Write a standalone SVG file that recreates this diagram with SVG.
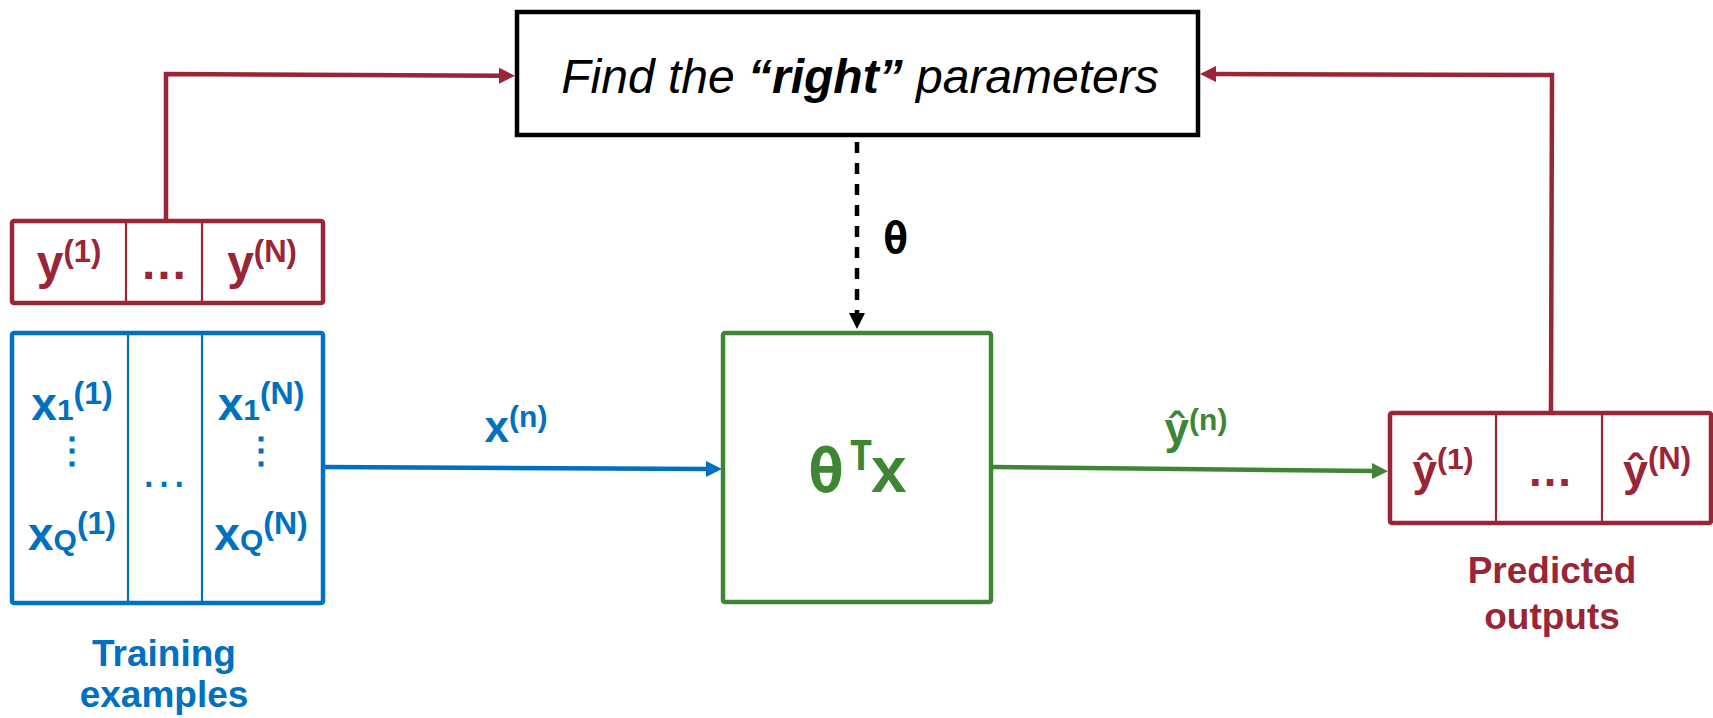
<svg xmlns="http://www.w3.org/2000/svg" width="1713" height="718" viewBox="0 0 1713 718">
  <defs>
    <style>
      text { font-family: "Liberation Sans", Arial, sans-serif; }
      .b { font-weight: bold; }
      .blue { fill: #0070C0; }
      .red { fill: #9A2537; }
      .green { fill: #3E8634; }
      .mono { font-family: "DejaVu Sans Mono", monospace; font-weight: bold; }
      .frame { fill: #ffffff; stroke-width: 4.5; }
      .div { fill: none; stroke-width: 2.2; }
      .conn { fill: none; stroke-width: 4.5; }
    </style>
    <marker id="ahRed" markerUnits="userSpaceOnUse" markerWidth="16" markerHeight="16" refX="4" refY="8" orient="auto">
      <path d="M0,0 L16,8 L0,16 z" fill="#9A2537"/>
    </marker>
    <marker id="ahBlue" markerUnits="userSpaceOnUse" markerWidth="16" markerHeight="16" refX="4" refY="8" orient="auto">
      <path d="M0,0 L16,8 L0,16 z" fill="#0070C0"/>
    </marker>
    <marker id="ahGreen" markerUnits="userSpaceOnUse" markerWidth="16" markerHeight="16" refX="4" refY="8" orient="auto">
      <path d="M0,0 L16,8 L0,16 z" fill="#3E8634"/>
    </marker>
    <marker id="ahBlack" markerUnits="userSpaceOnUse" markerWidth="16" markerHeight="16" refX="4" refY="8" orient="auto">
      <path d="M0,0 L16,8 L0,16 z" fill="#000000"/>
    </marker>
  </defs>

  <rect width="1713" height="718" fill="#ffffff"/>

  <!-- connectors -->
  <g id="connectors">
    <polyline class="conn" stroke="#9A2537" points="166,219 166,74 503,75.7" marker-end="url(#ahRed)"/>
    <polyline class="conn" stroke="#9A2537" points="1551,411 1552,75 1212,74" marker-end="url(#ahRed)"/>
    <line class="conn" stroke="#000000" stroke-dasharray="11 10" x1="857" y1="142" x2="857" y2="317" marker-end="url(#ahBlack)"/>
    <line class="conn" stroke="#0070C0" x1="323" y1="467" x2="710" y2="469" marker-end="url(#ahBlue)"/>
    <line class="conn" stroke="#3E8634" x1="993" y1="467" x2="1376" y2="471" marker-end="url(#ahGreen)"/>
    <text class="mono" x="883" y="253" font-size="42" fill="#000000">θ</text>
    <text class="b blue" x="516" y="442" text-anchor="middle" font-size="44">x<tspan font-size="30" dy="-15">(n)</tspan></text>
    <text class="b green" x="1196" y="444" text-anchor="middle" font-size="44">ŷ<tspan font-size="30" dy="-14">(n)</tspan></text>
  </g>

  <!-- parameter search -->
  <g id="find-parameters">
    <rect class="frame" x="517" y="12" width="681" height="123" stroke="#000000"/>
    <text x="860" y="93" text-anchor="middle" font-size="48" font-style="italic" fill="#000000">Find the <tspan font-weight="bold">“right”</tspan> parameters</text>
  </g>

  <!-- linear model -->
  <g id="model">
    <rect class="frame" x="723" y="333" width="268" height="269" rx="2" stroke="#3E8634"/>
    <text class="mono green" x="808" y="492" font-size="60">θ</text>
    <text class="mono green" x="849" y="470" font-size="40">T</text>
    <text class="b green" x="871" y="492" font-size="64">x</text>
  </g>

  <!-- targets -->
  <g id="targets">
    <rect class="frame" x="12" y="221" width="311" height="82" rx="2" stroke="#9A2537"/>
    <line class="div" stroke="#9A2537" x1="126" y1="221" x2="126" y2="303"/>
    <line class="div" stroke="#9A2537" x1="202" y1="221" x2="202" y2="303"/>
    <text class="b red" x="69" y="279" text-anchor="middle" font-size="48">y<tspan font-size="31" dy="-17">(1)</tspan></text>
    <text class="b red" x="164" y="279" text-anchor="middle" font-size="48">…</text>
    <text class="b red" x="262" y="279" text-anchor="middle" font-size="48">y<tspan font-size="31" dy="-17">(N)</tspan></text>
  </g>

  <!-- training examples -->
  <g id="training-examples">
    <rect class="frame" x="12" y="333" width="311" height="270" rx="2" stroke="#0070C0"/>
    <line class="div" stroke="#0070C0" x1="128" y1="333" x2="128" y2="603"/>
    <line class="div" stroke="#0070C0" x1="202" y1="333" x2="202" y2="603"/>
    <text class="b blue" x="72" y="420" text-anchor="middle" font-size="46">x<tspan font-size="30">1</tspan><tspan font-size="32" dy="-16">(1)</tspan></text>
    <text class="b blue" x="72" y="550" text-anchor="middle" font-size="46">x<tspan font-size="30">Q</tspan><tspan font-size="32" dy="-16">(1)</tspan></text>
    <text class="b blue" x="261" y="420" text-anchor="middle" font-size="46">x<tspan font-size="30">1</tspan><tspan font-size="32" dy="-16">(N)</tspan></text>
    <text class="b blue" x="261" y="550" text-anchor="middle" font-size="46">x<tspan font-size="30">Q</tspan><tspan font-size="32" dy="-16">(N)</tspan></text>
    <text class="blue" x="72" y="463" text-anchor="middle" font-size="36" font-family="DejaVu Sans, sans-serif" font-weight="bold">⋮</text>
    <text class="blue" x="261" y="463" text-anchor="middle" font-size="36" font-family="DejaVu Sans, sans-serif" font-weight="bold">⋮</text>
    <text class="blue" x="164" y="487" text-anchor="middle" font-size="48">…</text>
    <text class="b blue" x="164" y="666" text-anchor="middle" font-size="37">Training</text>
    <text class="b blue" x="164" y="707" text-anchor="middle" font-size="37">examples</text>
  </g>

  <!-- predictions -->
  <g id="predicted-outputs">
    <rect class="frame" x="1390" y="413" width="321" height="110" rx="2" stroke="#9A2537"/>
    <line class="div" stroke="#9A2537" x1="1496" y1="413" x2="1496" y2="523"/>
    <line class="div" stroke="#9A2537" x1="1602" y1="413" x2="1602" y2="523"/>
    <text class="b red" x="1443" y="486" text-anchor="middle" font-size="44">ŷ<tspan font-size="30" dy="-17">(1)</tspan></text>
    <text class="b red" x="1550" y="486" text-anchor="middle" font-size="46">…</text>
    <text class="b red" x="1657" y="486" text-anchor="middle" font-size="45">ŷ<tspan font-size="31" dy="-17">(N)</tspan></text>
    <text class="b red" x="1552" y="583" text-anchor="middle" font-size="37">Predicted</text>
    <text class="b red" x="1552" y="629" text-anchor="middle" font-size="37">outputs</text>
  </g>
</svg>
